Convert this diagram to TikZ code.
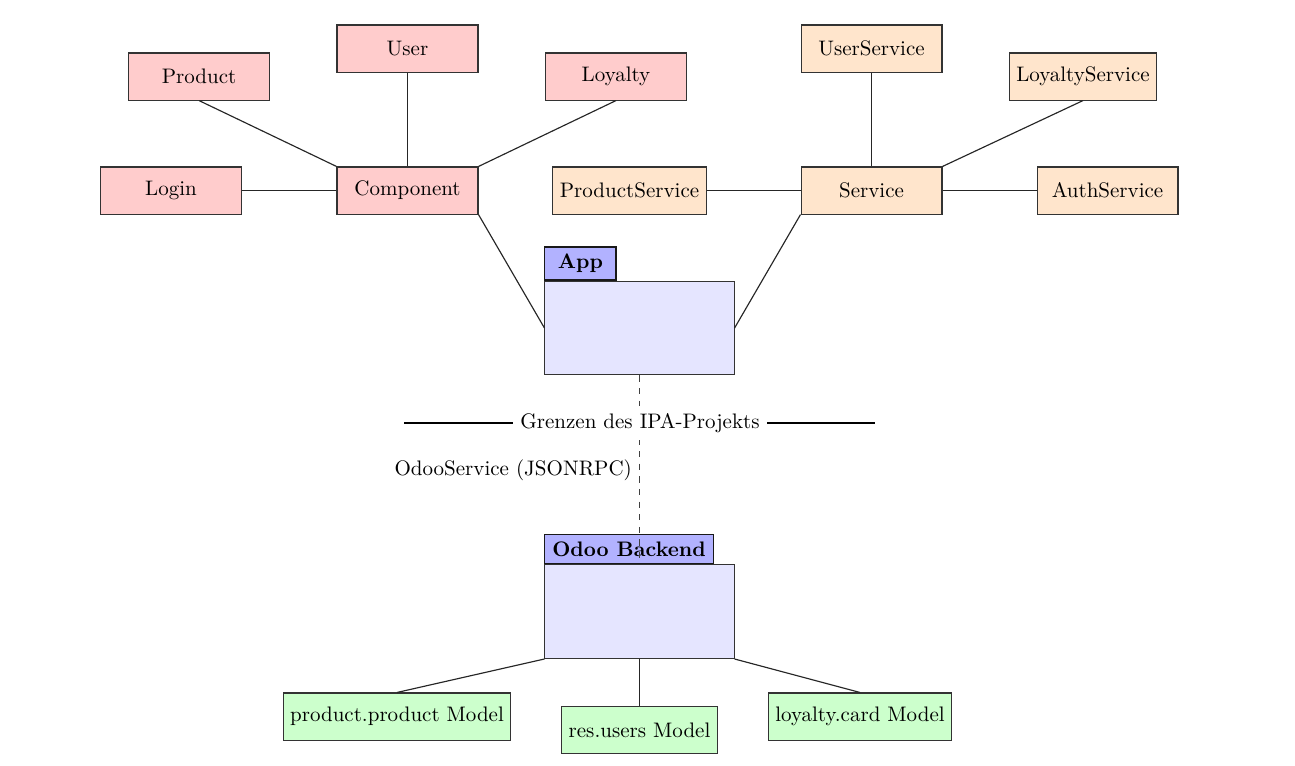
\documentclass[tikz,border=0pt]{standalone}
\usetikzlibrary{positioning}
\begin{document}
\begin{tikzpicture}[x=0.476pt,y=-0.476pt,
  box/.style={draw=black!80, line width=0.5pt, minimum width=67.1pt, minimum height=22.4pt, inner sep=3.33pt},
  fe/.style={box, fill=red!20},
  svc/.style={box, fill=orange!20},
  mdl/.style={box, fill=green!20},
  folder/.style={draw=black!80, line width=0.5pt, fill=blue!10, minimum width=90pt, minimum height=44.7pt, inner sep=0pt},
  tab/.style={draw=black!90, line width=0.5pt, fill=blue!30, font=\bfseries, anchor=south west, inner sep=2pt},
  link/.style={draw=black!85, line width=0.55pt}
]
\useasboundingbox (0,0) rectangle (1295,765);
% frontend
\node[fe] (product) at (199,76.5) {Product};
\node[fe] (user) at (407.5,48.5) {User};
\node[fe] (loyalty) at (616,76.5) {Loyalty};
\node[fe] (login) at (171,190.5) {Login};
\node[fe] (component) at (407.5,190.5) {Component};
% services
\node[svc] (userservice) at (871.5,48.5) {UserService};
\node[svc] (loyaltyservice) at (1083,76.5) {LoyaltyService};
\node[svc] (productservice) at (629.5,190.5) {ProductService};
\node[svc] (service) at (871.5,190.5) {Service};
\node[svc] (authservice) at (1107.5,190.5) {AuthService};
% folders
\node[folder] (app) at (639.5,328) {};
\node[tab, minimum width=33.8pt, minimum height=15.7pt] (apptab) at (app.north west) {App};
\node[folder] (odoo) at (639.5,611.5) {};
\node[tab, minimum width=80pt, minimum height=13.8pt] (odootab) at (odoo.north west) {Odoo Backend};
% models
\node[mdl] (pp) at (397,716.5) {product.product Model};
\node[mdl] (ru) at (639.5,730) {res.users Model};
\node[mdl] (lc) at (860,716.5) {loyalty.card Model};
% connectors
\draw[link] (product.south) -- (component.north west);
\draw[link] (user.south) -- (component.north);
\draw[link] (loyalty.south) -- (component.north east);
\draw[link] (login.east) -- (component.west);
\draw[link] (userservice.south) -- (service.north);
\draw[link] (loyaltyservice.south) -- (service.north east);
\draw[link] (productservice.east) -- (service.west);
\draw[link] (authservice.west) -- (service.east);
\draw[link] (component.south east) -- (app.west);
\draw[link] (service.south west) -- (app.east);
\draw[link] (odoo.south west) -- (pp.north);
\draw[link] (odoo.south) -- (ru.north);
\draw[link] (odoo.south east) -- (lc.north);
% JSONRPC
\draw[dashed, black!75, line width=0.6pt] (app.south) -- node[midway, left, text=black] (rpc) {OdooService (JSONRPC)} (odoo.north);
% boundary
\coordinate (gl) at (404,423);
\coordinate (gr) at (875,423);
\node[fill=white, inner sep=3.33pt] (grenze) at (640,423) {Grenzen des IPA-Projekts};
\draw[line width=0.5pt] (gl) -- (grenze.west);
\draw[line width=0.5pt] (grenze.east) -- (gr);
\end{tikzpicture}
\end{document}
